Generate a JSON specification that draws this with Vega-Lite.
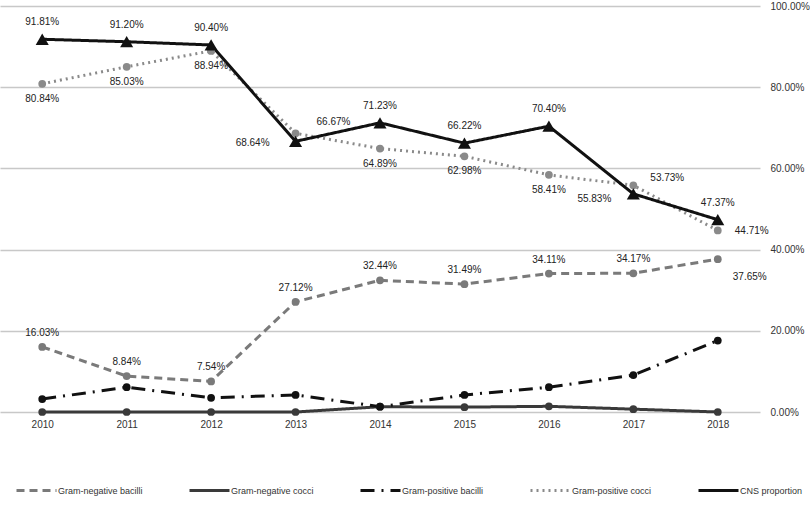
{
  "$schema": "https://vega.github.io/schema/vega-lite/v6.json",
  "autosize": {"type": "none"},
  "width": 760,
  "height": 406,
  "padding": {"left": 0, "top": 6, "right": 50, "bottom": 98},
  "background": "white",
  "config": {
    "view": {"stroke": null},
    "font": "Liberation Sans",
    "axis": {"labelFont": "Liberation Sans", "labelFontSize": 10, "labelColor": "#333333"},
    "legend": {"labelFont": "Liberation Sans", "labelFontSize": 9, "labelColor": "#333333"}
  },
  "data": {"values": [
    {"year": 2010, "series": "Gram-negative bacilli", "value": 0.1603},
    {"year": 2011, "series": "Gram-negative bacilli", "value": 0.0884},
    {"year": 2012, "series": "Gram-negative bacilli", "value": 0.0754},
    {"year": 2013, "series": "Gram-negative bacilli", "value": 0.2712},
    {"year": 2014, "series": "Gram-negative bacilli", "value": 0.3244},
    {"year": 2015, "series": "Gram-negative bacilli", "value": 0.3149},
    {"year": 2016, "series": "Gram-negative bacilli", "value": 0.3411},
    {"year": 2017, "series": "Gram-negative bacilli", "value": 0.3417},
    {"year": 2018, "series": "Gram-negative bacilli", "value": 0.3765},
    {"year": 2010, "series": "Gram-negative cocci", "value": 0},
    {"year": 2011, "series": "Gram-negative cocci", "value": 0},
    {"year": 2012, "series": "Gram-negative cocci", "value": 0},
    {"year": 2013, "series": "Gram-negative cocci", "value": 0},
    {"year": 2014, "series": "Gram-negative cocci", "value": 0.013},
    {"year": 2015, "series": "Gram-negative cocci", "value": 0.012},
    {"year": 2016, "series": "Gram-negative cocci", "value": 0.014},
    {"year": 2017, "series": "Gram-negative cocci", "value": 0.007},
    {"year": 2018, "series": "Gram-negative cocci", "value": 0},
    {"year": 2010, "series": "Gram-positive bacilli", "value": 0.032},
    {"year": 2011, "series": "Gram-positive bacilli", "value": 0.061},
    {"year": 2012, "series": "Gram-positive bacilli", "value": 0.035},
    {"year": 2013, "series": "Gram-positive bacilli", "value": 0.042},
    {"year": 2014, "series": "Gram-positive bacilli", "value": 0.013},
    {"year": 2015, "series": "Gram-positive bacilli", "value": 0.042},
    {"year": 2016, "series": "Gram-positive bacilli", "value": 0.061},
    {"year": 2017, "series": "Gram-positive bacilli", "value": 0.091},
    {"year": 2018, "series": "Gram-positive bacilli", "value": 0.176},
    {"year": 2010, "series": "Gram-positive cocci", "value": 0.8084},
    {"year": 2011, "series": "Gram-positive cocci", "value": 0.8503},
    {"year": 2012, "series": "Gram-positive cocci", "value": 0.8894},
    {"year": 2013, "series": "Gram-positive cocci", "value": 0.6864},
    {"year": 2014, "series": "Gram-positive cocci", "value": 0.6489},
    {"year": 2015, "series": "Gram-positive cocci", "value": 0.6298},
    {"year": 2016, "series": "Gram-positive cocci", "value": 0.5841},
    {"year": 2017, "series": "Gram-positive cocci", "value": 0.5583},
    {"year": 2018, "series": "Gram-positive cocci", "value": 0.4471},
    {"year": 2010, "series": "CNS proportion", "value": 0.9181},
    {"year": 2011, "series": "CNS proportion", "value": 0.9120},
    {"year": 2012, "series": "CNS proportion", "value": 0.9040},
    {"year": 2013, "series": "CNS proportion", "value": 0.6667},
    {"year": 2014, "series": "CNS proportion", "value": 0.7123},
    {"year": 2015, "series": "CNS proportion", "value": 0.6622},
    {"year": 2016, "series": "CNS proportion", "value": 0.7040},
    {"year": 2017, "series": "CNS proportion", "value": 0.5373},
    {"year": 2018, "series": "CNS proportion", "value": 0.4737}
  ]},
  "encoding": {
    "x": {"field": "year", "type": "ordinal", "scale": {"type": "point", "padding": 0.5},
      "axis": {"title": null, "labelAngle": 0, "ticks": false, "domain": false, "grid": false, "labelPadding": 7}},
    "y": {"field": "value", "type": "quantitative", "scale": {"domain": [0, 1], "nice": false},
      "axis": {"title": null, "orient": "right", "values": [0, 0.2, 0.4, 0.6, 0.8, 1], "format": ".2%",
        "ticks": false, "domain": false, "grid": true, "gridColor": "#c8c8c8", "gridWidth": 1.5, "labelPadding": 10}}
  },
  "layer": [
    {
      "mark": {"type": "line", "strokeWidth": 3},
      "encoding": {
        "color": {"field": "series", "type": "nominal",
          "scale": {"domain": ["Gram-negative bacilli", "Gram-negative cocci", "Gram-positive bacilli", "Gram-positive cocci", "CNS proportion"],
            "range": ["#7a7a7a", "#3a3a3a", "#111111", "#8a8a8a", "#111111"]},
          "legend": {"title": null, "orient": "none", "direction": "horizontal", "legendX": 15, "legendY": 463,
            "gridAlign": "none", "symbolType": "stroke", "symbolSize": 1600, "symbolStrokeWidth": 3, "labelOffset": 0, "columnPadding": 40}},
        "strokeDash": {"field": "series", "type": "nominal",
          "scale": {"domain": ["Gram-negative bacilli", "Gram-negative cocci", "Gram-positive bacilli", "Gram-positive cocci", "CNS proportion"],
            "range": [[8, 5], [1, 0], [14, 7, 2, 7], [2, 4], [1, 0]]},
          "legend": {"title": null, "orient": "none", "direction": "horizontal", "legendX": 15, "legendY": 463,
            "gridAlign": "none", "symbolType": "stroke", "symbolSize": 1600, "symbolStrokeWidth": 3, "labelOffset": 0, "columnPadding": 40}}
      }
    },
    {
      "transform": [{"filter": "datum.series != 'CNS proportion'"}],
      "mark": {"type": "point", "filled": true, "shape": "circle", "size": 60, "opacity": 1},
      "encoding": {"color": {"field": "series", "type": "nominal"}}
    },
    {
      "transform": [{"filter": "datum.series == 'CNS proportion'"}],
      "mark": {"type": "point", "filled": true, "shape": "triangle-up", "size": 170, "opacity": 1, "color": "#111111"}
    },
    {
      "transform": [{"filter": "datum.series == 'CNS proportion' && datum.year != 2013 && datum.year != 2017"}],
      "mark": {"type": "text", "dy": -17, "fontSize": 10, "color": "#222222", "baseline": "middle"},
      "encoding": {"text": {"field": "value", "type": "quantitative", "format": ".2%"}}
    },
    {
      "transform": [{"filter": "datum.series == 'Gram-positive cocci' && datum.year != 2013 && datum.year != 2017 && datum.year != 2018"}],
      "mark": {"type": "text", "dy": 15, "fontSize": 10, "color": "#222222", "baseline": "middle"},
      "encoding": {"text": {"field": "value", "type": "quantitative", "format": ".2%"}}
    },
    {
      "transform": [{"filter": "datum.series == 'Gram-negative bacilli' && datum.year != 2018"}],
      "mark": {"type": "text", "dy": -14, "fontSize": 10, "color": "#222222", "baseline": "middle"},
      "encoding": {"text": {"field": "value", "type": "quantitative", "format": ".2%"}}
    },
    {
      "transform": [{"filter": "datum.series == 'CNS proportion' && datum.year == 2013"}],
      "mark": {"type": "text", "dx": 21, "dy": -19, "align": "left", "fontSize": 10, "color": "#222222", "baseline": "middle"},
      "encoding": {"text": {"field": "value", "type": "quantitative", "format": ".2%"}}
    },
    {
      "transform": [{"filter": "datum.series == 'CNS proportion' && datum.year == 2017"}],
      "mark": {"type": "text", "dx": 17, "dy": -16, "align": "left", "fontSize": 10, "color": "#222222", "baseline": "middle"},
      "encoding": {"text": {"field": "value", "type": "quantitative", "format": ".2%"}}
    },
    {
      "transform": [{"filter": "datum.series == 'Gram-positive cocci' && datum.year == 2013"}],
      "mark": {"type": "text", "dx": -26, "dy": 10, "align": "right", "fontSize": 10, "color": "#222222", "baseline": "middle"},
      "encoding": {"text": {"field": "value", "type": "quantitative", "format": ".2%"}}
    },
    {
      "transform": [{"filter": "datum.series == 'Gram-positive cocci' && datum.year == 2017"}],
      "mark": {"type": "text", "dx": -22, "dy": 14, "align": "right", "fontSize": 10, "color": "#222222", "baseline": "middle"},
      "encoding": {"text": {"field": "value", "type": "quantitative", "format": ".2%"}}
    },
    {
      "transform": [{"filter": "datum.series == 'Gram-positive cocci' && datum.year == 2018"}],
      "mark": {"type": "text", "dx": 17, "dy": 1, "align": "left", "fontSize": 10, "color": "#222222", "baseline": "middle"},
      "encoding": {"text": {"field": "value", "type": "quantitative", "format": ".2%"}}
    },
    {
      "transform": [{"filter": "datum.series == 'Gram-negative bacilli' && datum.year == 2018"}],
      "mark": {"type": "text", "dx": 15, "dy": 18, "align": "left", "fontSize": 10, "color": "#222222", "baseline": "middle"},
      "encoding": {"text": {"field": "value", "type": "quantitative", "format": ".2%"}}
    }
  ]
}
